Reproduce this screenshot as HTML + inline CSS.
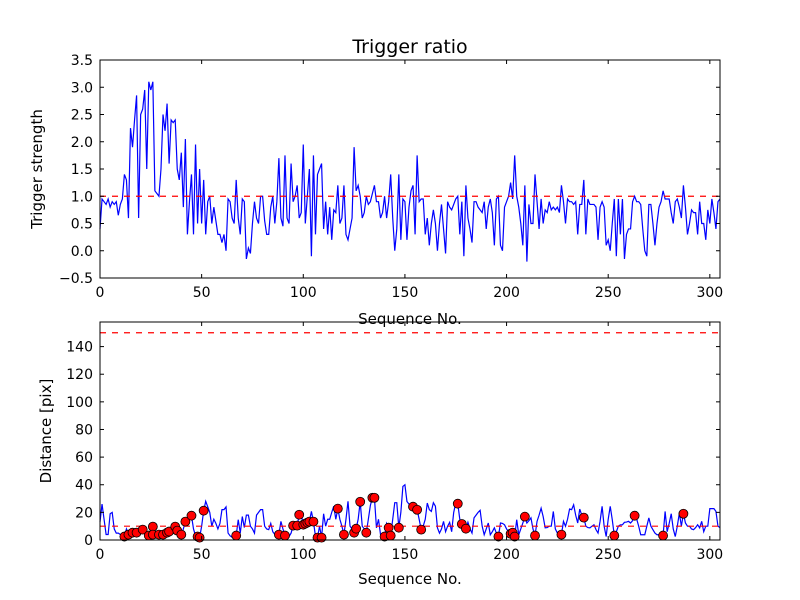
<!DOCTYPE html>
<html><head><meta charset="utf-8"><style>
body{margin:0;background:#fff}
svg{display:block;font-family:"DejaVu Sans","Liberation Sans",sans-serif}
</style></head><body>
<svg id="chart" width="800" height="600" xmlns="http://www.w3.org/2000/svg"></svg>
<script>
const xTicks=[0,50,100,150,200,250,300];
const topYTicks=[-0.5,0,0.5,1,1.5,2,2.5,3,3.5];
const botYTicks=[0,20,40,60,80,100,120,140];
const triggerThreshold=[1];
const distThresholds=[10,150];
const trigger=[0.4,0.95,0.9,0.85,0.95,0.8,0.9,0.85,0.9,0.65,
0.85,0.95,1.4,1.3,0.6,2.25,1.9,2.4,2.85,0.6,
2.5,2.6,2.95,1.5,3.1,2.95,3.1,1.1,1.05,1.0,
1.5,2.5,2.2,2.7,1.6,2.4,2.35,2.4,1.5,1.3,
1.8,0.8,2.05,0.3,0.9,1.4,0.3,1.95,0.5,1.5,
0.5,1.3,0.3,0.9,1.0,0.5,0.8,0.55,0.3,0.3,
0.15,0.3,0.0,0.95,0.9,0.6,0.5,1.3,0.6,0.3,
0.95,0.9,-0.15,0.05,-0.05,0.5,0.9,0.6,0.5,1.0,
1.0,0.55,0.3,0.3,0.8,1.0,0.5,0.9,1.7,0.6,
0.45,1.75,0.6,0.5,1.6,0.9,1.0,1.2,0.6,0.7,
1.95,0.5,1.0,1.5,-0.1,1.75,0.3,1.4,1.5,1.6,
0.4,0.9,0.3,0.8,0.2,0.75,0.7,1.2,0.5,0.6,
1.2,0.3,0.2,0.4,0.6,1.9,1.1,1.2,1.0,0.6,
0.7,1.0,0.85,0.9,1.05,1.2,0.9,0.9,0.6,0.7,
1.0,0.6,0.9,1.4,0.6,0.0,0.4,1.4,0.2,0.95,
0.9,0.2,0.8,1.1,1.2,0.3,1.75,0.9,0.95,0.95,
0.3,0.6,0.1,0.5,0.75,0.5,0.0,0.5,0.85,0.4,
-0.05,0.9,0.8,0.75,0.85,0.95,1.0,0.3,0.9,-0.1,
1.2,0.6,0.4,0.15,0.9,0.9,0.8,0.75,0.7,0.9,
0.4,0.8,0.95,0.7,0.1,0.95,1.0,0.1,0.0,0.8,
0.9,1.0,1.25,0.95,1.75,1.0,0.8,0.5,0.1,1.2,
-0.2,0.85,0.5,0.5,1.4,0.9,0.4,0.95,0.5,0.75,
0.7,0.9,0.75,0.8,0.75,0.8,0.7,1.2,0.9,0.5,
0.95,0.9,0.9,0.85,0.9,0.3,0.85,0.85,1.3,0.3,
0.95,0.85,0.85,0.85,0.8,0.2,0.8,0.9,0.8,0.1,
0.2,0.0,0.5,0.95,-0.1,0.95,0.3,0.95,-0.15,0.3,
0.4,0.4,0.9,1.0,0.9,0.9,0.85,0.4,0.0,-0.1,
0.85,0.85,0.5,0.1,0.5,0.8,0.9,1.1,0.95,0.95,
0.95,0.7,0.5,0.9,0.95,0.8,0.6,1.2,0.8,0.3,
0.5,0.75,0.7,0.7,0.3,0.9,0.5,0.5,0.2,0.75,
0.5,0.95,0.7,0.4,0.9,0.95];
const distance=[13,26,15,4,4,19,20,8,5,5,
4,3,2.5,8,3.9,5,5.3,4,5.3,6,
5,7.5,4,3,3.2,4,9.7,4,3.5,3.9,
3.5,3.9,4,5.3,6.1,7,8,9.7,6.8,5,
3.9,8,13.3,14,15,17.6,8,3,2.5,1.7,
10,21.2,28,24,20,10,15,12,8,12,
22,22,24,5,3,2,3.2,3.2,14.7,5,
17,9,18,18,10,8,5,18,20,22,
22,10,8,7.5,12,6,4,3,3.9,13.5,
8,3.2,2.5,2.5,5,10.4,11,10.4,18.3,18.3,
11.1,11.8,12.6,13.3,20.7,13.3,2.7,1.7,10,1.7,
19,10,15,15,20,24.5,15,22.7,15,10,
3.9,15,28,10,8,5.3,8.2,15,27.7,10,
8,5.3,15,25,30.6,30.6,8.8,15,3.9,3,
2.5,12,8.9,3.2,15,27,27,8.9,20,38.8,
40,27.9,26,25,24.1,22,21.9,15,7.5,10,
15,26.7,22,20.7,27,24.5,8.8,5,8,13.5,
6,10,12.8,6,20,26.7,26.3,15,11.6,9,
8.2,12.8,8,5,16,18,20,21.5,10,3.8,
8,12.3,3.8,6,8.8,5,2.5,12.3,12,11,
8,6,4.5,5.3,2.5,14.7,3.8,8,12.3,16.9,
12.3,14,16,8,3.2,13.5,18,23,17,8.8,
9,10,10,20.7,8,5,3.9,3.9,13.5,10,
15,22.4,22,25.5,18,12.3,22.4,18,16.2,10,
9,8.8,10,11,7.5,5,13.5,24.4,10,2.5,
15,24.4,14.7,3.2,6,10,11,11,12.8,13,
13.5,12.3,14,17.6,15.2,10,3.8,3.8,3.8,10,
16,10,7.5,5,3.8,3.8,3.5,3.2,20.7,6,
12,19,8,2.5,10,19.5,10,19,12.3,10,
10,8,7.5,9,11,8.8,13.5,6,10,10,
22.7,22.7,22.7,20.7,10,9];
const dotSeq=[12,14,16,18,21,24,26,26,29,31,33,34,37,38,40,42,45,48,49,51,67,88,91,95,97,98,100,101,102,103,105,107,109,117,120,125,126,128,131,134,135,140,142,143,147,154,156,158,176,178,180,196,202,203,204,209,214,227,238,253,263,277,287];
const dotVal=[2.5,3.9,5.3,5.3,7.5,3.2,9.7,3.9,3.9,3.9,5.3,6.1,9.7,6.8,3.9,13.3,17.6,2.5,1.7,21.2,3.2,3.9,3.2,10.4,10.4,18.3,11.1,11.8,12.6,13.3,13.3,1.7,1.7,22.7,3.9,5.3,8.2,27.7,5.3,30.6,30.6,2.5,8.9,3.2,8.9,24.1,21.9,7.5,26.3,11.6,8.2,2.5,4.5,5.3,2.5,16.9,3.2,3.9,16.2,3.2,17.6,3.2,19];

const NS="http://www.w3.org/2000/svg";
const svg=document.getElementById('chart');
function mk(tag,attrs,parent){const e=document.createElementNS(NS,tag);for(const k in attrs)e.setAttribute(k,attrs[k]);(parent||svg).appendChild(e);return e;}
const L=100,R=720,XMAX=305;
const sx=v=>L+(v/XMAX)*(R-L);
const T1=60,B1=278,ty=v=>B1-(v+0.5)/4*(B1-T1);
const T2=322,B2=540,DMAX=157.8,by=v=>B2-v/DMAX*(B2-T2);

function axes(name,T,B,yTicks,yf,fmt){
  const g=mk('g',{});
  
  
  xTicks.forEach(t=>{const x=sx(t);
    mk('line',{x1:x,x2:x,y1:B,y2:B-4,stroke:'#000'},g);
    mk('line',{x1:x,x2:x,y1:T,y2:T+4,stroke:'#000'},g);
    const tx=mk('text',{x:x,y:B+19,'text-anchor':'middle','font-size':14},g);tx.textContent=t;
    
    
  });
  yTicks.forEach(t=>{const y=yf(t);
    mk('line',{x1:L,x2:L+4,y1:y,y2:y,stroke:'#000'},g);
    mk('line',{x1:R,x2:R-4,y1:y,y2:y,stroke:'#000'},g);
    const tx=mk('text',{x:L-7,y:y+5,'text-anchor':'end','font-size':14},g);tx.textContent=fmt(t);
    
    
  });
  return g;
}
const line1=mk('polyline',{points:trigger.map((v,i)=>sx(i)+','+ty(v)).join(' '),fill:'none',stroke:'#0000ff','stroke-width':1.2});


triggerThreshold.forEach(v=>{const l=mk('line',{x1:L,x2:R,y1:ty(v),y2:ty(v),stroke:'#ff0000','stroke-width':1.2,'stroke-dasharray':'6,6'});
  
  });
const f1=mk('rect',{x:L,y:T1,width:R-L,height:B1-T1,fill:'none',stroke:'#000'});


axes('top-axes',T1,B1,topYTicks,ty,t=>t.toFixed(1).replace('-','\u2212'));
const cp=mk('clipPath',{id:'c2'});mk('rect',{x:L,y:T2,width:R-L,height:B2-T2+6},cp);
const line2=mk('polyline',{points:distance.map((v,i)=>sx(i)+','+by(v)).join(' '),fill:'none',stroke:'#0000ff','stroke-width':1.2});


distThresholds.forEach(v=>{const l=mk('line',{x1:L,x2:R,y1:by(v),y2:by(v),stroke:'#ff0000','stroke-width':1.2,'stroke-dasharray':'6,6'});
  
  });
const dg=mk('g',{'clip-path':'url(#c2)'});
dotSeq.forEach((s,i)=>{const c=mk('circle',{cx:sx(s),cy:by(dotVal[i]),r:4.5,fill:'#ff0000',stroke:'#000','stroke-width':0.8},dg);
  
  });
const f2=mk('rect',{x:L,y:T2,width:R-L,height:B2-T2,fill:'none',stroke:'#000'});


axes('bottom-axes',T2,B2,botYTicks,by,t=>String(t));
function label(txt,x,y,size,rot,name){const t=mk('text',{x:x,y:y,'text-anchor':'middle','font-size':size});
  if(rot)t.setAttribute('transform','rotate(-90 '+x+' '+y+')');t.textContent=txt;
  
  }
label('Trigger ratio',410,53,19,false,'chart-title');
label('Trigger strength',42,169,15,true,'top-y-axis-title');
label('Sequence No.',410,324,15,false,'top-x-axis-title');
label('Distance [pix]',51,431,15,true,'bottom-y-axis-title');
label('Sequence No.',410,584,15,false,'bottom-x-axis-title');
</script>
</body></html>
